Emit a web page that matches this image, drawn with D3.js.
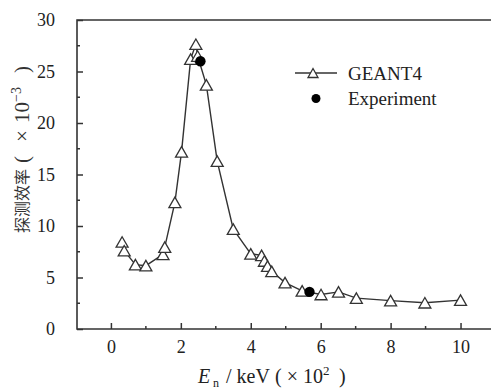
<!DOCTYPE html>
<html><head><meta charset="utf-8">
<script src="https://cdn.jsdelivr.net/npm/d3@7"></script>
<style>body{margin:0;background:#fff}svg{display:block}
.serif{font-family:"Liberation Serif","Times New Roman","DejaVu Serif",serif}</style>
</head><body>
<script>
const geantX = [0.32,0.38,0.7,1.0,1.49,1.54,1.83,2.02,2.28,2.43,2.48,2.73,3.04,3.5,4.0,4.31,4.39,4.48,4.6,4.98,5.47,6.01,6.51,7.02,8.0,8.98,10.0];
const geantY = [8.45,7.6,6.25,6.15,7.25,7.95,12.3,17.2,26.2,27.65,26.5,23.7,16.3,9.7,7.3,7.15,6.6,6.1,5.6,4.5,3.7,3.35,3.6,3.0,2.75,2.55,2.8];
const expX = [2.56,5.68];
const expY = [26.0,3.6];
const xTicks = [0,2,4,6,8,10];
const yTicks = [0,5,10,15,20,25,30];

const W=491,H=390;
const svg=d3.select("body").append("svg").attr("width",W).attr("height",H);
const L=77,R=491,T=20,B=329;
const x=d3.scaleLinear().domain([-0.97,11.0]).range([77,495.5]);
const y=d3.scaleLinear().domain([0,30]).range([B,T]);
const col="#333";

const xAxis=d3.axisBottom(x).tickValues(xTicks).tickSizeInner(-6).tickSizeOuter(0).tickPadding(11);
const gx=svg.append("g").attr("transform",`translate(0,${B})`).call(xAxis).attr("font-family",null).attr("font-size",null);
gx.select(".domain").remove();
gx.selectAll(".tick line").attr("stroke",col).attr("stroke-width",1.5);
gx.selectAll(".tick text").attr("class","serif").style("font-size","18px").attr("fill","#222");
const xMinor=d3.range(1,11,2);
svg.append("g").selectAll("line").data(xMinor).join("line")
 .attr("x1",d=>x(d)).attr("x2",d=>x(d)).attr("y1",B).attr("y2",B-3)
 .attr("stroke",col).attr("stroke-width",1.5);

const yAxis=d3.axisLeft(y).tickValues(yTicks).tickSizeInner(-6).tickSizeOuter(0).tickPadding(22);
const gy=svg.append("g").attr("transform",`translate(${L},0)`).call(yAxis).attr("font-family",null).attr("font-size",null);
gy.select(".domain").remove();
gy.selectAll(".tick line").attr("stroke",col).attr("stroke-width",1.5);
gy.selectAll(".tick text").attr("class","serif").style("font-size","18px").attr("fill","#222");
const yMinor=[2.5,7.5,12.5,17.5,22.5,27.5];
svg.append("g").selectAll("line").data(yMinor).join("line")
 .attr("x1",L).attr("x2",L+3).attr("y1",d=>y(d)).attr("y2",d=>y(d))
 .attr("stroke",col).attr("stroke-width",1.5);

svg.append("path").attr("d",`M${R},${T}H${L}V${B}H${R}`).attr("fill","none").attr("stroke",col).attr("stroke-width",1.6);

const pts=geantX.map((d,i)=>[d,geantY[i]]);
svg.append("path").datum(pts)
 .attr("d",d3.line().x(d=>x(d[0])).y(d=>y(d[1])))
 .attr("fill","none").attr("stroke",col).attr("stroke-width",1.4);

function tri(cx,cy,w,h){return `M${cx},${cy-h/2}L${cx+w/2},${cy+h/2}L${cx-w/2},${cy+h/2}Z`;}
svg.append("g").selectAll("path").data(pts).join("path")
 .attr("d",d=>tri(x(d[0]),y(d[1]),12,10.5))
 .attr("fill","#fff").attr("stroke",col).attr("stroke-width",1.3);

const ep=expX.map((d,i)=>[d,expY[i]]);
svg.append("g").selectAll("circle").data(ep).join("circle")
 .attr("cx",d=>x(d[0])).attr("cy",d=>y(d[1])).attr("r",5.2).attr("fill","#000");

// legend
svg.append("line").attr("x1",295).attr("x2",337).attr("y1",73).attr("y2",73).attr("stroke",col).attr("stroke-width",1.4);
svg.append("path").attr("d",tri(313,73,10,9)).attr("fill","#fff").attr("stroke",col).attr("stroke-width",1.3);
svg.append("circle").attr("cx",316).attr("cy",98.5).attr("r",4.5).attr("fill","#000");
svg.append("text").attr("class","serif").attr("x",348).attr("y",80).style("font-size","19px").attr("fill","#222").text("GEANT4");
svg.append("text").attr("class","serif").attr("x",348).attr("y",105).style("font-size","19px").attr("fill","#222").text("Experiment");

// x title
const xt=svg.append("text").attr("class","serif").attr("y",383)
 .style("font-size","20px").attr("fill","#222");
xt.append("tspan").attr("x",198).attr("font-style","italic").text("E");
xt.append("tspan").attr("x",213).style("font-size","12px").attr("dy",4).text("n");
xt.append("tspan").attr("x",226).attr("dy",-4).text("/ keV");
xt.append("tspan").attr("x",275).text("( × 10");
xt.append("tspan").style("font-size","13px").attr("dy",-8).text("2");
xt.append("tspan").attr("x",339).attr("dy",8).text(")");

// y title (rotated)
const ytg=svg.append("g").attr("transform","translate(29,233) rotate(-90)").attr("fill","#333");
ytg.append("text").style("font-family","'Noto Sans CJK SC','Noto Sans CJK JP',sans-serif")
 .style("font-size","16px").attr("x",0).attr("y",-1).text("探测效率");
const rest=ytg.append("text").attr("class","serif").style("font-size","21px").attr("y",0);
rest.append("tspan").attr("x",70).text("(");
rest.append("tspan").attr("x",91).text("×");
rest.append("tspan").attr("x",110).text("10");
rest.append("tspan").style("font-size","14px").attr("dy",-8).text("−3");
rest.append("tspan").attr("x",160).attr("dy",8).text(")");
</script>
</body></html>
